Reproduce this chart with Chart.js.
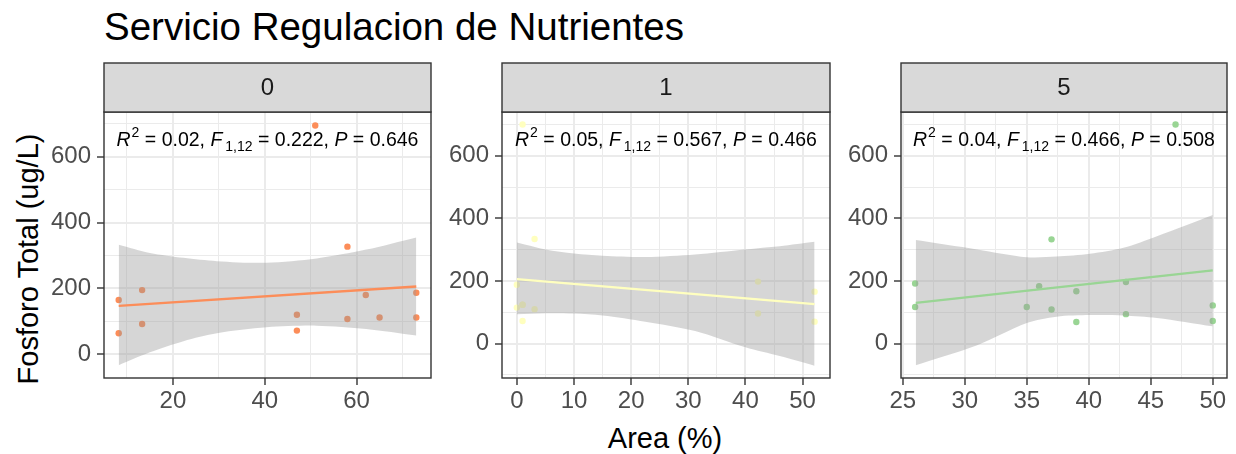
<!DOCTYPE html>
<html><head><meta charset="utf-8">
<script src="https://cdn.jsdelivr.net/npm/chart.js@4.4.1/dist/chart.umd.min.js"></script>
<style>
html,body{margin:0;padding:0;background:#fff;}
#wrap{position:relative;width:1236px;height:454px;overflow:hidden;font-family:"Liberation Sans",Arial,sans-serif;background:#fff;}
canvas{position:absolute;}
#title{position:absolute;left:104px;top:8px;font-size:38.5px;line-height:1;color:#000;white-space:nowrap;}
#ytitle{position:absolute;left:28px;top:259px;font-size:29px;line-height:1;color:#000;transform:translate(-50%,-50%) rotate(-90deg);white-space:nowrap;}
#xtitle{position:absolute;left:665px;top:438px;font-size:29px;line-height:1;color:#000;transform:translate(-50%,-50%);white-space:nowrap;}
</style></head>
<body><div id="wrap">
<div id="title">Servicio Regulacion de Nutrientes</div>
<div id="ytitle">Fosforo Total (ug/L)</div>
<div id="xtitle">Area (%)</div>
<canvas id="c0"></canvas><canvas id="c1"></canvas><canvas id="c2"></canvas>
</div>
<script>
// ---------- data ----------
const facetLabels = ['0', '1', '5'];
const seriesColors = ['#FC8D59', '#FFFFBF', '#99D594'];

const area0    = [8.2, 8.2, 13.3, 13.3, 47, 47, 51, 58, 58, 62, 65, 73, 73];
const fosforo0 = [165, 64, 195, 92, 120, 72, 695, 327, 107, 180, 112, 187, 112];
const area1    = [0, 0, 1, 1, 1, 1, 3.1, 3.1, 42.2, 42.2, 52.1, 52.1];
const fosforo1 = [188, 115, 700, 124, 72, 124, 334, 110, 198, 96, 166, 70];
const area2    = [26, 26, 35, 36, 37, 37, 39, 39, 43, 43, 47, 50, 50];
const fosforo2 = [192, 117, 117, 183, 333, 109, 167, 69, 197, 94, 700, 122, 72];

// fitted lines (endpoints)
const fitX0 = [8.2, 73];   const fitY0 = [147, 206];
const fitX1 = [0, 52.1];   const fitY1 = [206, 126];
const fitX2 = [26.05, 50]; const fitY2 = [130, 234];

// confidence bands
const bandX0  = [8.2, 15, 22.3, 29.6, 40.4, 51.3, 62.1, 73];
const bandLo0 = [-33, 6, 40, 64, 82, 87, 77, 57];
const bandHi0 = [333, 308, 293, 283, 278, 291, 318, 355];
const bandX1  = [0, 5, 10, 15, 22.5, 31.2, 40, 46, 52.1];
const bandLo1 = [94, 97, 96, 90, 70, 40, -12, -40, -71];
const bandHi1 = [323, 301, 288, 281, 277, 285, 301, 311, 325];
const bandX2  = [26.05, 31, 35, 37.4, 40.1, 42.8, 45.5, 50];
const bandLo2 = [-69, -5, 66, 86, 91, 90, 82, 55];
const bandHi2 = [331, 301, 276, 278, 287, 306, 343, 411];

// annotation labels
const r2Labels = ['0.02', '0.05', '0.04'];
const fDfLabel = '1,12';
const fLabels  = ['0.222', '0.567', '0.466'];
const pLabels  = ['0.646', '0.466', '0.508'];

// axis limits and ticks
const xLimits = [[5.0, 76.2], [-2.6, 54.8], [24.86, 51.15]];
const yLimits = [[-72, 736], [-110, 740], [-110, 740]];
const xMajor = [[20, 40, 60], [0, 10, 20, 30, 40, 50], [25, 30, 35, 40, 45, 50]];
const xMinor = [[10, 30, 50, 70], [5, 15, 25, 35, 45], [27.5, 32.5, 37.5, 42.5, 47.5]];
const yMajor = [0, 200, 400, 600];
const yMinor = [-100, 100, 300, 500, 700];

// ---------- layout ----------
const geom = [{l: 104, r: 431}, {l: 502, r: 830}, {l: 901, r: 1227}];
const CAN_TOP = 60, PANEL_TOP = 112, PANEL_BOTTOM = 378, STRIP_TOP = 63, CAN_H = 360, AXW = 80;
const FONT = '"Liberation Sans", Arial, sans-serif';

const panels = [
  {x: area0, y: fosforo0, fx: fitX0, fy: fitY0, bx: bandX0, lo: bandLo0, hi: bandHi0},
  {x: area1, y: fosforo1, fx: fitX1, fy: fitY1, bx: bandX1, lo: bandLo1, hi: bandHi1},
  {x: area2, y: fosforo2, fx: fitX2, fy: fitY2, bx: bandX2, lo: bandLo2, hi: bandHi2}
];

const facetPlugin = {
  id: 'facet',
  afterDraw(chart, args, o) {
    const {ctx, chartArea: a} = chart;
    ctx.save();
    const st = STRIP_TOP - CAN_TOP;
    ctx.strokeStyle = '#333333';
    ctx.lineWidth = 1.4;
    ctx.strokeRect(a.left, a.top, a.right - a.left, a.bottom - a.top);
    ctx.fillStyle = '#D9D9D9';
    ctx.fillRect(a.left, st, a.right - a.left, a.top - st);
    ctx.strokeRect(a.left, st, a.right - a.left, a.top - st);
    ctx.fillStyle = '#1A1A1A';
    ctx.font = '24px ' + FONT;
    ctx.textAlign = 'center';
    ctx.textBaseline = 'middle';
    ctx.fillText(o.label, (a.left + a.right) / 2, (st + a.top) / 2 + 1);

    // annotation
    const base = 146 - CAN_TOP;
    const parts = [
      {t: 'R', f: 'italic 19.5px ' + FONT, dy: 0, gap: 1},
      {t: '2', f: '14px ' + FONT, dy: -9, gap: 0},
      {t: ' = ' + o.r2 + ', ', f: '19.5px ' + FONT, dy: 0, gap: 0},
      {t: 'F', f: 'italic 19.5px ' + FONT, dy: 0, gap: 3},
      {t: o.df, f: '14px ' + FONT, dy: 5, gap: 0},
      {t: ' = ' + o.fv + ', ', f: '19.5px ' + FONT, dy: 0, gap: 0},
      {t: 'P', f: 'italic 19.5px ' + FONT, dy: 0, gap: 0},
      {t: ' = ' + o.pv, f: '19.5px ' + FONT, dy: 0, gap: 0}
    ];
    let total = 0;
    parts.forEach(p => { ctx.font = p.f; p.w = ctx.measureText(p.t).width + p.gap; total += p.w; });
    let x = (a.left + a.right) / 2 - total / 2;
    ctx.fillStyle = '#000000';
    ctx.textAlign = 'left';
    ctx.textBaseline = 'alphabetic';
    parts.forEach(p => { ctx.font = p.f; ctx.fillText(p.t, x, base + p.dy); x += p.w; });
    ctx.restore();
  }
};

panels.forEach((p, i) => {
  const g = geom[i];
  const cv = document.getElementById('c' + i);
  const w = (g.r - g.l) + AXW + 8;
  cv.width = w; cv.height = CAN_H;
  cv.style.left = (g.l - AXW) + 'px';
  cv.style.top = CAN_TOP + 'px';
  cv.style.width = w + 'px'; cv.style.height = CAN_H + 'px';

  const xm = xMajor[i], xn = xMinor[i];
  const [x0, x1] = xLimits[i], [y0, y1] = yLimits[i];
  const xt = xm.concat(xn).filter(v => v >= x0 && v <= x1).sort((a, b) => a - b);
  const yt = yMajor.concat(yMinor).filter(v => v >= y0 && v <= y1).sort((a, b) => a - b);
  const isMaj = (arr, v) => arr.some(m => Math.abs(m - v) < 1e-9);

  new Chart(cv, {
    type: 'scatter',
    data: {
      datasets: [
        {type: 'scatter', data: p.x.map((v, k) => ({x: v, y: p.y[k]})), pointRadius: 3.2,
         pointBackgroundColor: seriesColors[i], pointBorderWidth: 0, pointBorderColor: 'rgba(0,0,0,0)', order: 3},
        {type: 'line', data: p.bx.map((v, k) => ({x: v, y: p.lo[k]})), borderWidth: 0, borderColor: 'rgba(0,0,0,0)',
         pointRadius: 0, fill: false, tension: 0.3, order: 2},
        {type: 'line', data: p.bx.map((v, k) => ({x: v, y: p.hi[k]})), borderWidth: 0, borderColor: 'rgba(0,0,0,0)',
         pointRadius: 0, fill: '-1', backgroundColor: 'rgba(153,153,153,0.4)', tension: 0.3, order: 2},
        {type: 'line', data: p.fx.map((v, k) => ({x: v, y: p.fy[k]})), borderWidth: 2.4, borderColor: seriesColors[i],
         pointRadius: 0, fill: false, order: 1}
      ]
    },
    options: {
      responsive: false, animation: false, devicePixelRatio: 1, events: [],
      layout: {padding: {top: PANEL_TOP - CAN_TOP, right: 8, left: 0, bottom: 0}},
      plugins: {
        legend: {display: false}, tooltip: {enabled: false},
        facet: {label: facetLabels[i], r2: r2Labels[i], df: fDfLabel, fv: fLabels[i], pv: pLabels[i]}
      },
      scales: {
        x: {
          type: 'linear', min: x0, max: x1,
          afterFit: s => { s.height = CAN_H - (PANEL_BOTTOM - CAN_TOP); },
          afterBuildTicks: s => { s.ticks = xt.map(v => ({value: v})); },
          border: {display: false},
          grid: {
            color: '#EBEBEB',
            lineWidth: c => (c.tick && isMaj(xm, c.tick.value)) ? 2 : 1,
            tickLength: 7, tickWidth: 1.4,
            tickColor: c => (c.tick && isMaj(xm, c.tick.value)) ? '#333333' : 'rgba(0,0,0,0)'
          },
          ticks: {
            autoSkip: false, maxRotation: 0, minRotation: 0, padding: 2, color: '#4D4D4D',
            font: {size: 24, family: FONT},
            callback: v => isMaj(xm, v) ? String(v) : ''
          }
        },
        y: {
          type: 'linear', min: y0, max: y1,
          afterFit: s => { s.width = AXW; },
          afterBuildTicks: s => { s.ticks = yt.map(v => ({value: v})); },
          border: {display: false},
          grid: {
            color: '#EBEBEB',
            lineWidth: c => (c.tick && isMaj(yMajor, c.tick.value)) ? 2 : 1,
            tickLength: 7, tickWidth: 1.4,
            tickColor: c => (c.tick && isMaj(yMajor, c.tick.value)) ? '#333333' : 'rgba(0,0,0,0)'
          },
          ticks: {
            autoSkip: false, padding: 6, color: '#4D4D4D',
            font: {size: 24, family: FONT},
            callback: v => isMaj(yMajor, v) ? String(v) : ''
          }
        }
      }
    },
    plugins: [facetPlugin]
  });
});
</script>
</body></html>
